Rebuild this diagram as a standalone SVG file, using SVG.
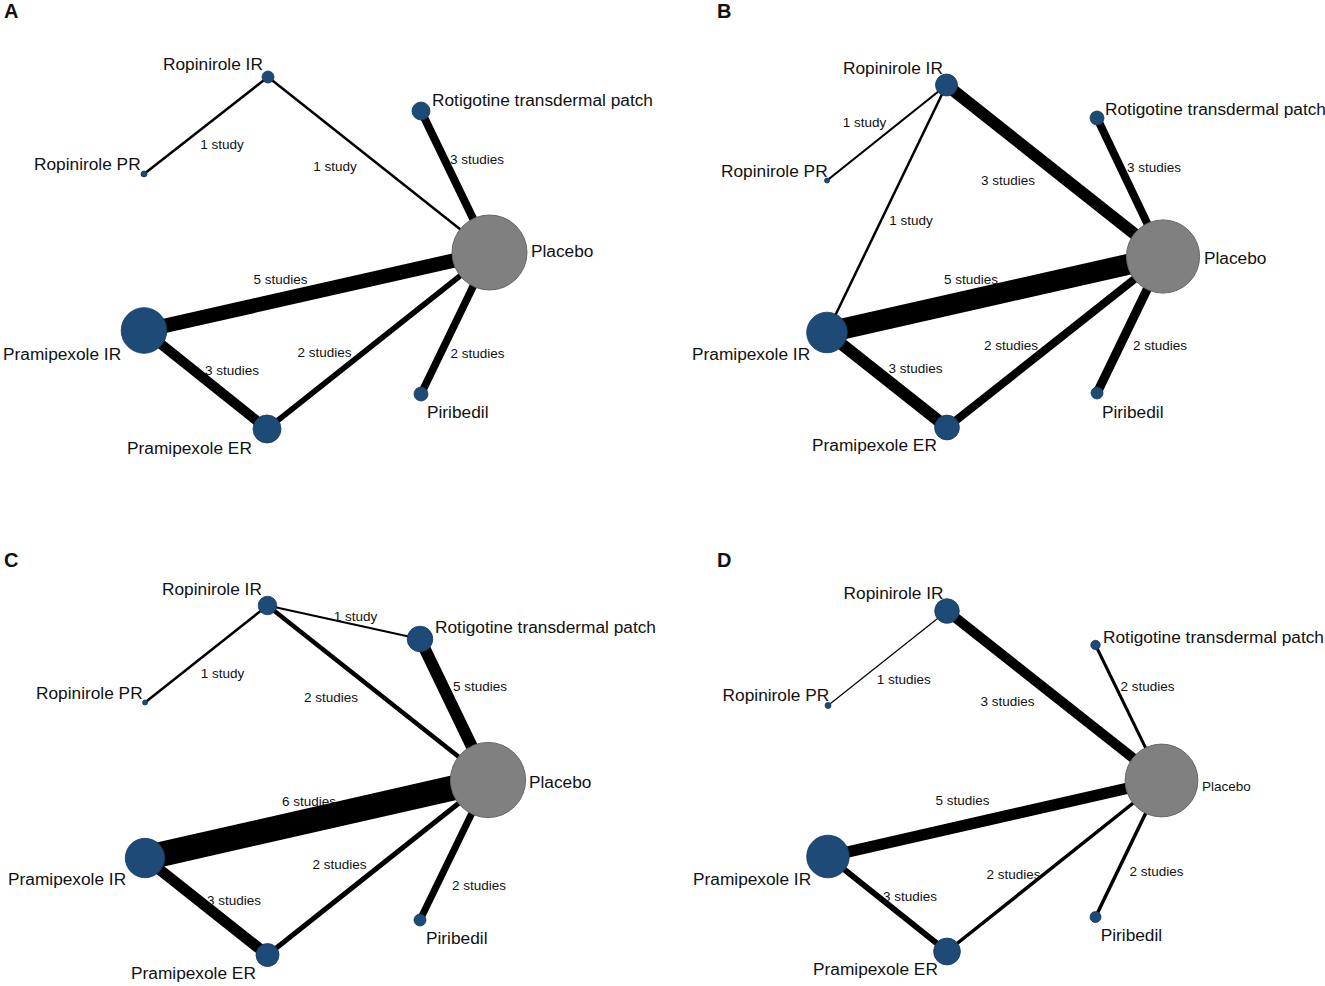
<svg xmlns="http://www.w3.org/2000/svg" width="1325" height="986" viewBox="0 0 1325 986">
<style>
.e{stroke:#000;stroke-linecap:butt;fill:none}
.n{fill:#1d4a77;stroke:#16385c;stroke-width:0.8}
.p{fill:#808080;stroke:#666;stroke-width:1}
.nl{font-family:"Liberation Sans",Arial,sans-serif;font-size:17.3px;fill:#111}
.el{font-family:"Liberation Sans",Arial,sans-serif;font-size:13.5px;fill:#111;text-anchor:middle}
.pl{font-family:"Liberation Sans",Arial,sans-serif;font-size:20px;font-weight:bold;fill:#111}
</style>
<rect width="1325" height="986" fill="#fff"/>

<!-- Panel A -->
<text class="pl" x="4" y="18">A</text>
<g id="a-connectors">
<line class="e" x1="144" y1="174" x2="268" y2="77" stroke-width="2.5"/>
<line class="e" x1="268" y1="77" x2="489.5" y2="252.5" stroke-width="2.5"/>
<line class="e" x1="421" y1="111" x2="489.5" y2="252.5" stroke-width="8"/>
<line class="e" x1="144" y1="330.5" x2="489.5" y2="252.5" stroke-width="14.5"/>
<line class="e" x1="144" y1="330.5" x2="267" y2="429" stroke-width="10"/>
<line class="e" x1="267" y1="429" x2="489.5" y2="252.5" stroke-width="5.5"/>
<line class="e" x1="421" y1="394" x2="489.5" y2="252.5" stroke-width="7.5"/>
<text class="el" x="222" y="148.5">1 study</text>
<text class="el" x="335" y="170.5">1 study</text>
<text class="el" x="477" y="163.5">3 studies</text>
<text class="el" x="280.5" y="283.5">5 studies</text>
<text class="el" x="324.5" y="356.5">2 studies</text>
<text class="el" x="232" y="374.5">3 studies</text>
<text class="el" x="477.5" y="357.5">2 studies</text>
</g>
<g id="a-ropinirole-ir"><circle class="n" cx="268" cy="77" r="6"/><text class="nl" x="163" y="70">Ropinirole IR</text></g>
<g id="a-ropinirole-pr"><circle class="n" cx="144" cy="174" r="3"/><text class="nl" x="34" y="170">Ropinirole PR</text></g>
<g id="a-rotigotine"><circle class="n" cx="421" cy="111" r="9"/><text class="nl" x="432" y="106">Rotigotine transdermal patch</text></g>
<g id="a-placebo"><circle class="p" cx="489.5" cy="252.5" r="37.5"/><text class="nl" x="531" y="257">Placebo</text></g>
<g id="a-pramipexole-ir"><circle class="n" cx="144" cy="330.5" r="22.8"/><text class="nl" x="3" y="360">Pramipexole IR</text></g>
<g id="a-pramipexole-er"><circle class="n" cx="267" cy="429" r="14"/><text class="nl" x="127" y="454">Pramipexole ER</text></g>
<g id="a-piribedil"><circle class="n" cx="421" cy="394" r="7"/><text class="nl" x="427" y="418">Piribedil</text></g>

<!-- Panel B -->
<text class="pl" x="717" y="18">B</text>
<g id="b-connectors">
<line class="e" x1="827" y1="180.5" x2="946.5" y2="85" stroke-width="2.2"/>
<line class="e" x1="946.5" y1="85" x2="827" y2="332.5" stroke-width="2.5"/>
<line class="e" x1="946.5" y1="85" x2="1163" y2="256.5" stroke-width="12"/>
<line class="e" x1="1097" y1="118" x2="1163" y2="256.5" stroke-width="8"/>
<line class="e" x1="827" y1="332.5" x2="1163" y2="256.5" stroke-width="21"/>
<line class="e" x1="827" y1="332.5" x2="947" y2="427.5" stroke-width="12"/>
<line class="e" x1="947" y1="427.5" x2="1163" y2="256.5" stroke-width="8"/>
<line class="e" x1="1097" y1="393" x2="1163" y2="256.5" stroke-width="9"/>
<text class="el" x="864.6" y="127.2">1 study</text>
<text class="el" x="911" y="225.2">1 study</text>
<text class="el" x="1008" y="184.5">3 studies</text>
<text class="el" x="1154" y="171.5">3 studies</text>
<text class="el" x="971" y="283.5">5 studies</text>
<text class="el" x="915.5" y="372.5">3 studies</text>
<text class="el" x="1011" y="349.5">2 studies</text>
<text class="el" x="1160" y="349.5">2 studies</text>
</g>
<g id="b-ropinirole-ir"><circle class="n" cx="946.5" cy="85" r="11"/><text class="nl" x="843" y="74">Ropinirole IR</text></g>
<g id="b-ropinirole-pr"><circle class="n" cx="827" cy="180.5" r="2.5"/><text class="nl" x="721" y="177">Ropinirole PR</text></g>
<g id="b-rotigotine"><circle class="n" cx="1097" cy="118" r="7"/><text class="nl" x="1105" y="115">Rotigotine transdermal patch</text></g>
<g id="b-placebo"><circle class="p" cx="1163" cy="256.5" r="36.6"/><text class="nl" x="1204" y="264">Placebo</text></g>
<g id="b-pramipexole-ir"><circle class="n" cx="827" cy="332.5" r="20.3"/><text class="nl" x="692" y="360">Pramipexole IR</text></g>
<g id="b-pramipexole-er"><circle class="n" cx="947" cy="427.5" r="12.4"/><text class="nl" x="812" y="451">Pramipexole ER</text></g>
<g id="b-piribedil"><circle class="n" cx="1097" cy="393" r="6"/><text class="nl" x="1102" y="418">Piribedil</text></g>

<!-- Panel C -->
<text class="pl" x="4" y="567">C</text>
<g id="c-connectors">
<line class="e" x1="145" y1="702.5" x2="267.5" y2="605.5" stroke-width="2.5"/>
<line class="e" x1="267.5" y1="605.5" x2="420" y2="639" stroke-width="2"/>
<line class="e" x1="267.5" y1="605.5" x2="488" y2="780" stroke-width="4.5"/>
<line class="e" x1="420" y1="639" x2="488" y2="780" stroke-width="12"/>
<line class="e" x1="145" y1="858" x2="488" y2="780" stroke-width="25"/>
<line class="e" x1="145" y1="858" x2="267.5" y2="955" stroke-width="11"/>
<line class="e" x1="267.5" y1="955" x2="488" y2="780" stroke-width="5"/>
<line class="e" x1="420" y1="920" x2="488" y2="780" stroke-width="7"/>
<text class="el" x="222.5" y="677.8">1 study</text>
<text class="el" x="355.5" y="620.5">1 study</text>
<text class="el" x="331" y="702.2">2 studies</text>
<text class="el" x="480" y="690.5">5 studies</text>
<text class="el" x="309" y="806.2">6 studies</text>
<text class="el" x="234" y="904.5">3 studies</text>
<text class="el" x="339.5" y="868.5">2 studies</text>
<text class="el" x="479" y="889.5">2 studies</text>
</g>
<g id="c-ropinirole-ir"><circle class="n" cx="267.5" cy="605.5" r="9.3"/><text class="nl" x="162" y="595">Ropinirole IR</text></g>
<g id="c-ropinirole-pr"><circle class="n" cx="145" cy="702.5" r="2.5"/><text class="nl" x="36" y="699">Ropinirole PR</text></g>
<g id="c-rotigotine"><circle class="n" cx="420" cy="639" r="12.8"/><text class="nl" x="435" y="633">Rotigotine transdermal patch</text></g>
<g id="c-placebo"><circle class="p" cx="488" cy="780" r="37.6"/><text class="nl" x="529" y="788">Placebo</text></g>
<g id="c-pramipexole-ir"><circle class="n" cx="145" cy="858" r="19.7"/><text class="nl" x="8" y="885">Pramipexole IR</text></g>
<g id="c-pramipexole-er"><circle class="n" cx="267.5" cy="955" r="11.5"/><text class="nl" x="131" y="979">Pramipexole ER</text></g>
<g id="c-piribedil"><circle class="n" cx="420" cy="920" r="6"/><text class="nl" x="426" y="944">Piribedil</text></g>

<!-- Panel D -->
<text class="pl" x="717" y="567">D</text>
<g id="d-connectors">
<line class="e" x1="828" y1="705.5" x2="947" y2="611" stroke-width="1.2"/>
<line class="e" x1="947" y1="611" x2="1161.5" y2="780.5" stroke-width="10"/>
<line class="e" x1="1095.5" y1="645" x2="1161.5" y2="780.5" stroke-width="3"/>
<line class="e" x1="828" y1="856.5" x2="1161.5" y2="780.5" stroke-width="11.5"/>
<line class="e" x1="828" y1="856.5" x2="947" y2="951.5" stroke-width="6"/>
<line class="e" x1="947" y1="951.5" x2="1161.5" y2="780.5" stroke-width="3.5"/>
<line class="e" x1="1095.5" y1="917" x2="1161.5" y2="780.5" stroke-width="3.5"/>
<text class="el" x="903.7" y="683.5">1 studies</text>
<text class="el" x="1007.5" y="705.5">3 studies</text>
<text class="el" x="1147.5" y="691.2">2 studies</text>
<text class="el" x="962.5" y="805.2">5 studies</text>
<text class="el" x="910" y="901.2">3 studies</text>
<text class="el" x="1013.5" y="878.5">2 studies</text>
<text class="el" x="1156.5" y="876.2">2 studies</text>
</g>
<g id="d-ropinirole-ir"><circle class="n" cx="947" cy="611" r="12.3"/><text class="nl" x="843.6" y="599">Ropinirole IR</text></g>
<g id="d-ropinirole-pr"><circle class="n" cx="828" cy="705.5" r="3"/><text class="nl" x="722.6" y="701">Ropinirole PR</text></g>
<g id="d-rotigotine"><circle class="n" cx="1095.5" cy="645" r="4.7"/><text class="nl" x="1103" y="643">Rotigotine transdermal patch</text></g>
<g id="d-placebo"><circle class="p" cx="1161.5" cy="780.5" r="36.4"/><text class="el" style="text-anchor:start" x="1202" y="791">Placebo</text></g>
<g id="d-pramipexole-ir"><circle class="n" cx="828" cy="856.5" r="21.3"/><text class="nl" x="693" y="885">Pramipexole IR</text></g>
<g id="d-pramipexole-er"><circle class="n" cx="947" cy="951.5" r="13.4"/><text class="nl" x="813" y="975">Pramipexole ER</text></g>
<g id="d-piribedil"><circle class="n" cx="1095.5" cy="917" r="5.5"/><text class="nl" x="1100.7" y="941">Piribedil</text></g>
</svg>
